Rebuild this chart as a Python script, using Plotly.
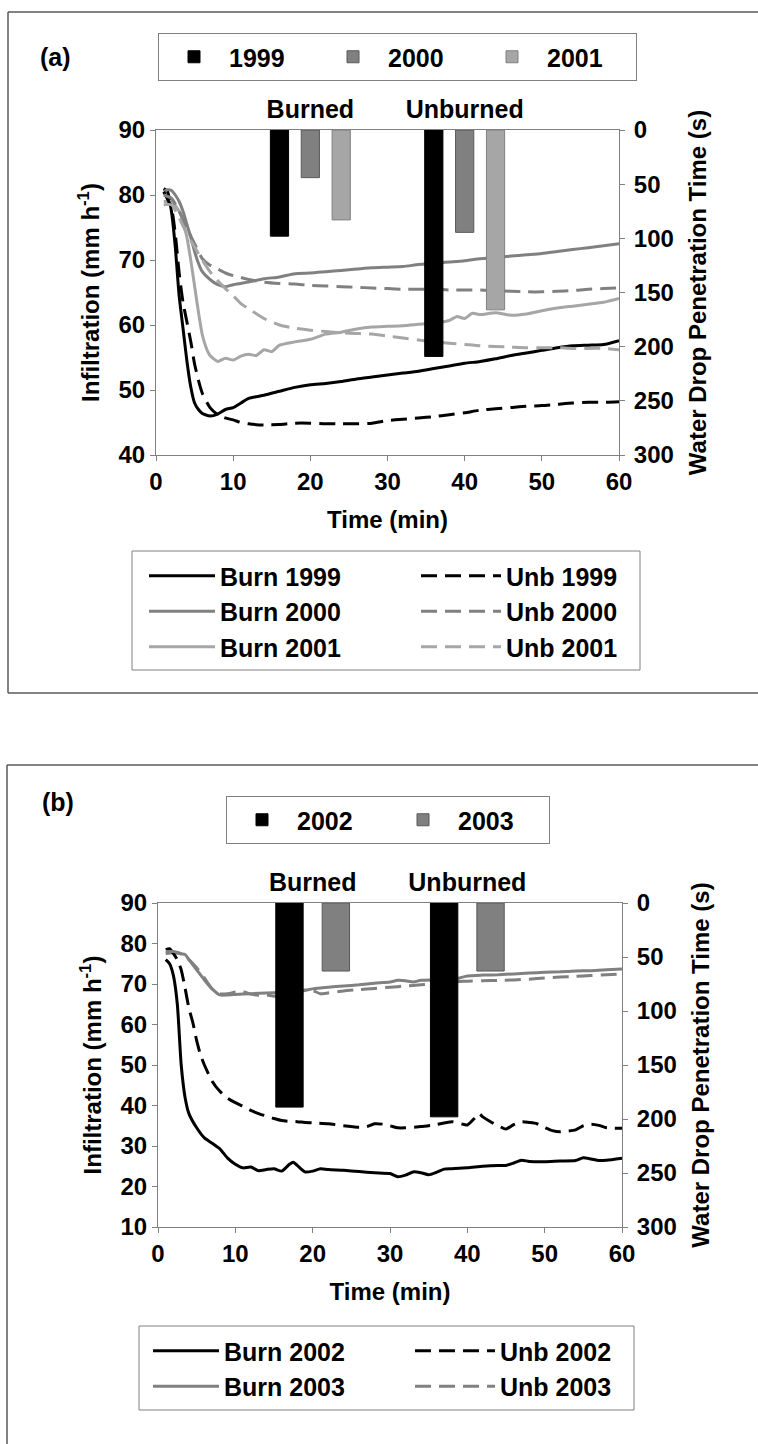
import plotly.graph_objects as go

# ---------------- Panel (a) data ----------------
groups = ["Burned", "Unburned"]
years_a = ["1999", "2000", "2001"]
wdpt_1999 = [98, 209]
wdpt_2000 = [44, 94.5]
wdpt_2001 = [83, 166]

t_burn_1999 = [1, 1.5, 2, 2.5, 3, 3.5, 4, 4.5, 5, 5.5, 6, 7, 8, 9, 10, 11, 12, 14, 16, 18, 20, 22, 24, 26, 28, 30,
               32, 34, 36, 38, 40, 42, 44, 46, 48, 50, 52, 54, 56, 58, 60]
v_burn_1999 = [81, 80.5, 77.5, 72, 64.5, 59.5, 54.5, 50.5, 48, 47, 46.4, 46, 46.3, 47, 47.3, 48, 48.7, 49.2, 49.8,
               50.4, 50.8, 51, 51.3, 51.7, 52, 52.3, 52.6, 52.9, 53.3, 53.7, 54.1, 54.4, 54.8, 55.3, 55.7, 56.1,
               56.5, 56.8, 56.9, 57, 57.6]

t_unb_1999 = [1, 2, 2.5, 3, 3.5, 4, 4.5, 5, 5.5, 6, 7, 8, 9, 10, 11, 12, 14, 16, 18, 20, 22, 24, 26, 28, 30, 32,
              34, 36, 38, 40, 42, 44, 46, 48, 50, 52, 54, 56, 58, 60]
v_unb_1999 = [80.5, 78, 74, 68, 63.5, 60.5, 57.5, 54, 51.5, 49.5, 47.3, 46.2, 45.7, 45.4, 45, 44.8, 44.6, 44.7,
              44.9, 44.9, 44.8, 44.8, 44.8, 44.9, 45.3, 45.5, 45.7, 45.9, 46.2, 46.5, 46.9, 47.1, 47.3, 47.5, 47.6,
              47.8, 48, 48.1, 48.1, 48.2]

t_burn_2000 = [1, 1.5, 2, 2.5, 3, 3.5, 4, 4.5, 5, 5.5, 6, 7, 8, 9, 10, 11, 12, 14, 16, 18, 20, 22, 24, 26, 28, 30,
               32, 34, 36, 38, 40, 42, 44, 46, 48, 50, 52, 54, 56, 58, 60]
v_burn_2000 = [80.5, 80.8, 80.7, 80, 79, 77.5, 75.5, 73.5, 71.3, 69.5, 68.2, 67, 66.2, 65.9, 66.2, 66.4, 66.6,
               67.1, 67.4, 67.9, 68, 68.2, 68.4, 68.6, 68.8, 68.9, 69, 69.3, 69.5, 69.7, 69.9, 70.2, 70.4, 70.6,
               70.8, 71, 71.3, 71.6, 71.9, 72.2, 72.5]

t_unb_2000 = [1, 2, 3, 4, 5, 6, 7, 8, 9, 10, 11, 12, 14, 16, 18, 20, 22, 24, 26, 28, 30, 32, 34, 36, 38, 40, 42,
              44, 46, 48, 50, 52, 54, 56, 58, 60]
v_unb_2000 = [80, 79.5, 77.5, 75, 72.5, 70.2, 69.2, 68.6, 68, 67.6, 67.3, 67, 66.6, 66.4, 66.3, 66.1, 66, 65.9,
              65.8, 65.7, 65.6, 65.5, 65.5, 65.5, 65.4, 65.4, 65.4, 65.3, 65.2, 65.1, 65.1, 65.2, 65.3, 65.5,
              65.6, 65.7]

t_burn_2001 = [1, 2, 3, 3.5, 4, 4.5, 5, 5.5, 6, 6.5, 7, 8, 9, 10, 11, 12, 13, 14, 15, 16, 18, 20, 22, 24, 26, 28,
               30, 32, 34, 36, 38, 39, 40, 41, 42, 44, 46, 48, 50, 52, 54, 56, 58, 60]
v_burn_2001 = [79, 79, 77.5, 76, 73.5, 70, 66, 62, 58.5, 56.5, 55.3, 54.4, 54.9, 54.6, 55.2, 55.5, 55.3, 56.2,
               55.9, 56.9, 57.4, 57.8, 58.6, 58.9, 59.4, 59.7, 59.8, 59.9, 60.1, 60.3, 60.7, 61.3, 61, 61.8, 61.6,
               61.9, 61.5, 61.7, 62.2, 62.6, 62.9, 63.2, 63.5, 64.1]

t_unb_2001 = [1, 2, 3, 4, 5, 6, 7, 8, 9, 10, 11, 12, 14, 16, 18, 20, 22, 24, 26, 28, 30, 32, 34, 36, 38, 40, 42,
              44, 46, 48, 50, 52, 54, 56, 58, 60]
v_unb_2001 = [78.5, 78.5, 76.5, 74, 72, 70, 68.2, 66.8, 65.6, 64.5, 63.3, 62.5, 61, 60, 59.5, 59.2, 59, 58.8,
              58.7, 58.6, 58.3, 58, 57.7, 57.4, 57.2, 57, 56.8, 56.7, 56.6, 56.5, 56.5, 56.5, 56.4, 56.4, 56.4,
              56.2]

# ---------------- Panel (b) data ----------------
years_b = ["2002", "2003"]
wdpt_2002 = [189, 198]
wdpt_2003 = [63, 63]

t_burn_2002 = [1, 1.5, 2, 2.5, 3, 3.5, 4, 5, 6, 7, 8, 9, 10, 11, 12, 13, 14, 15, 16, 17, 17.5, 18, 19, 20, 21,
               22, 24, 26, 28, 30, 31, 32, 33, 34, 35, 36, 37, 38, 40, 42, 44, 45, 46, 47, 48, 50, 52, 54, 55, 56,
               57, 58, 60]
v_burn_2002 = [76, 75, 72, 65, 50, 42, 38, 34.5, 32, 30.7, 29.3, 27, 25.5, 24.6, 24.8, 23.9, 24.2, 24.4, 23.8,
               25.5, 26, 25.2, 23.6, 23.8, 24.4, 24.2, 24, 23.7, 23.4, 23.2, 22.4, 22.8, 23.6, 23.4, 22.9, 23.5,
               24.3, 24.4, 24.6, 25, 25.2, 25.2, 25.8, 26.5, 26.2, 26.1, 26.3, 26.4, 27.1, 26.8, 26.4, 26.5, 27]

t_unb_2002 = [1, 1.5, 2, 2.5, 3, 3.5, 4, 4.5, 5, 5.5, 6, 7, 8, 9, 10, 11, 12, 13, 14, 15, 16, 17, 18, 19, 20, 22,
              24, 26, 27, 28, 29, 30, 31, 32, 34, 36, 38, 39, 40, 41, 41.5, 42, 43, 44, 45, 46, 47, 48, 49, 50, 51,
              52, 53, 54, 55, 56, 57, 58, 59, 60]
v_unb_2002 = [78.5, 78.7, 77.5, 76, 73.5, 69, 64, 60.5, 56, 52.5, 50, 46, 43.5, 41.8, 40.7, 39.8, 38.8, 38,
              37.4, 36.8, 36.3, 36.1, 36, 35.8, 35.7, 35.5, 35, 34.6, 34.8, 35.5, 35.4, 35, 34.5, 34.5, 34.8,
              35.3, 36, 35.6, 35.2, 37, 38, 37.2, 36, 35, 34.2, 35.3, 36, 35.8, 35.5, 34.6, 33.8, 33.5, 33.7, 34,
              35, 35.4, 35.1, 34.5, 34.4, 34.4]

t_burn_2003 = [1, 2, 3, 3.5, 4, 5, 6, 7, 8, 9, 10, 12, 14, 16, 18, 19, 20, 22, 24, 26, 28, 30, 31, 32, 33, 34, 36,
               38, 39, 40, 42, 44, 46, 48, 50, 52, 54, 56, 58, 60]
v_burn_2003 = [77.5, 77.7, 77.4, 77.3, 76, 73.5, 71, 68.8, 67.3, 67.3, 67.4, 67.6, 67.8, 67.9, 68.1, 68.4, 68.8,
               69.2, 69.5, 69.8, 70.2, 70.5, 70.9, 70.8, 70.5, 70.9, 71, 71.2, 71.5, 72, 72.2, 72.3, 72.5, 72.7,
               72.9, 73, 73.2, 73.3, 73.5, 73.7]

t_unb_2003 = [1, 2, 3, 4, 5, 6, 7, 8, 9, 10, 11, 12, 13, 14, 15, 16, 17, 18, 19, 20, 21, 22, 24, 26, 28, 30, 32,
              34, 36, 38, 39, 40, 42, 44, 46, 48, 50, 52, 54, 56, 58, 60]
v_unb_2003 = [78, 78, 77.5, 76, 74, 71.5, 68.8, 67.6, 67.6, 68, 68.1, 67.5, 67.2, 67.3, 67, 67.3, 67.6, 67.7,
              68.5, 68.4, 67.6, 67.8, 68.3, 68.6, 68.9, 69.2, 69.5, 69.8, 70.1, 70.5, 70.6, 70.7, 70.8, 70.9, 71,
              71.2, 71.5, 71.7, 71.9, 72.1, 72.3, 72.5]

# ---------------- styling ----------------
BLACK = "#000000"
MID = "#808080"
LIGHT = "#A6A6A6"
AX = "#808080"
FRAME = "#595959"
FONT = "Liberation Sans, Arial, sans-serif"
W, H = 758, 1444
DASH = "16px,8px"


def px_x(p):
    return p / W


def px_y(p):
    return 1 - p / H


fig = go.Figure()

# ---- panel (a) lines ----
line_specs_a = [
    ("Burn 1999", t_burn_1999, v_burn_1999, BLACK, "solid", "legend2"),
    ("Burn 2000", t_burn_2000, v_burn_2000, MID, "solid", "legend2"),
    ("Burn 2001", t_burn_2001, v_burn_2001, LIGHT, "solid", "legend2"),
    ("Unb 1999", t_unb_1999, v_unb_1999, BLACK, DASH, "legend5"),
    ("Unb 2000", t_unb_2000, v_unb_2000, MID, DASH, "legend5"),
    ("Unb 2001", t_unb_2001, v_unb_2001, LIGHT, DASH, "legend5"),
]
for name, t, v, c, d, lg in line_specs_a:
    fig.add_trace(go.Scatter(x=t, y=v, name=name, mode="lines",
                             line=dict(color=c, width=3, dash=d, shape="spline", smoothing=0.6),
                             xaxis="x", yaxis="y", legend=lg))

# ---- panel (a) bars ----
bar_specs_a = [("1999", wdpt_1999, BLACK, BLACK), ("2000", wdpt_2000, MID, "#595959"),
               ("2001", wdpt_2001, LIGHT, MID)]
for name, vals, c, lc in bar_specs_a:
    fig.add_trace(go.Bar(x=groups, y=vals, name=name, marker=dict(color=c, line=dict(color=lc, width=1)),
                         xaxis="x2", yaxis="y2", legend="legend"))

# ---- panel (b) lines ----
line_specs_b = [
    ("Burn 2002", t_burn_2002, v_burn_2002, BLACK, "solid", "legend4"),
    ("Burn 2003", t_burn_2003, v_burn_2003, MID, "solid", "legend4"),
    ("Unb 2002", t_unb_2002, v_unb_2002, BLACK, DASH, "legend6"),
    ("Unb 2003", t_unb_2003, v_unb_2003, MID, DASH, "legend6"),
]
for name, t, v, c, d, lg in line_specs_b:
    fig.add_trace(go.Scatter(x=t, y=v, name=name, mode="lines",
                             line=dict(color=c, width=3, dash=d, shape="spline", smoothing=0.6),
                             xaxis="x3", yaxis="y3", legend=lg))

bar_specs_b = [("2002", wdpt_2002, BLACK, BLACK), ("2003", wdpt_2003, MID, "#595959")]
for name, vals, c, lc in bar_specs_b:
    fig.add_trace(go.Bar(x=groups, y=vals, name=name, marker=dict(color=c, line=dict(color=lc, width=1)),
                         xaxis="x4", yaxis="y4", legend="legend3"))

tick_font = dict(family=FONT, size=24, color="black", weight="bold")
title_font = dict(family=FONT, size=24, color="black", weight="bold")


def time_axis(domain, anchor):
    return dict(domain=domain, anchor=anchor, range=[0, 60], dtick=10, ticks="outside", ticklen=5,
                tickcolor=AX, showline=True, linecolor=AX, linewidth=1, mirror=True, showgrid=False,
                zeroline=False, tickfont=tick_font,
                title=dict(text="Time (min)", font=title_font, standoff=17))


def left_axis(domain, anchor, rng, dtick):
    return dict(domain=domain, anchor=anchor, range=rng, dtick=dtick, ticks="outside", ticklen=5,
                tickcolor=AX, showline=True, linecolor=AX, linewidth=1, showgrid=False, zeroline=False,
                tickfont=tick_font,
                title=dict(text="Infiltration (mm h<sup>-1</sup>)", font=title_font, standoff=12))


def right_axis(over, anchor):
    return dict(overlaying=over, anchor=anchor, side="right", range=[300, 0], dtick=50, ticks="outside",
                ticklen=5, tickcolor=AX, showline=True, linecolor=AX, linewidth=1, showgrid=False,
                zeroline=False, tickfont=tick_font, ticklabelstandoff=4,
                title=dict(text="Water Drop Penetration Time (s)", font=title_font, standoff=16))


def cat_axis(over, anchor):
    return dict(overlaying=over, anchor=anchor, side="top", type="category", categoryorder="array",
                categoryarray=groups, range=[-1, 2], showline=False, ticks="", showgrid=False,
                zeroline=False, tickfont=dict(family=FONT, size=25, color="black", weight="bold"),
                ticklabelstandoff=6)


ya_dom = [px_y(455), px_y(130)]
yb_dom = [px_y(1227), px_y(903)]
xa_dom = [px_x(156), px_x(619)]
xb_dom = [px_x(158), px_x(622)]

leg_font = dict(family=FONT, size=25, color="black", weight="bold")
top_legend = dict(orientation="h", xanchor="left", yanchor="top", bgcolor="white",
                  bordercolor=AX, borderwidth=1, itemwidth=60, font=leg_font)
col_legend = dict(orientation="v", xanchor="left", yanchor="top", bgcolor="rgba(0,0,0,0)",
                  borderwidth=0, font=leg_font, tracegroupgap=0)

fig.update_layout(
    width=W, height=H, margin=dict(l=0, r=0, t=0, b=0, autoexpand=False),
    paper_bgcolor="white", plot_bgcolor="white",
    font=dict(family=FONT, size=24, color="black", weight="bold"),
    barmode="group", bargap=0.4, bargroupgap=0.41,
    xaxis=time_axis(xa_dom, "y"),
    yaxis=left_axis(ya_dom, "x", [40, 90], 10),
    yaxis2=right_axis("y", "x"),
    xaxis2=cat_axis("x", "y"),
    xaxis3=time_axis(xb_dom, "y3"),
    yaxis3=left_axis(yb_dom, "x3", [10, 90], 10),
    yaxis4=right_axis("y3", "x3"),
    xaxis4=cat_axis("x3", "y3"),
    legend=dict(top_legend, x=px_x(158), y=px_y(33), entrywidth=84),
    legend3=dict(top_legend, x=px_x(226), y=px_y(796), entrywidth=86),
    legend2=dict(col_legend, x=px_x(144), y=px_y(553), itemwidth=66),
    legend5=dict(col_legend, x=px_x(416), y=px_y(553), itemwidth=80),
    legend4=dict(col_legend, x=px_x(148), y=px_y(1328), itemwidth=66),
    legend6=dict(col_legend, x=px_x(410), y=px_y(1328), itemwidth=80),
    showlegend=True,
    annotations=[
        dict(text="(a)", x=px_x(38), y=px_y(41), xref="paper", yref="paper", showarrow=False,
             font=dict(family=FONT, size=25, color="black", weight="bold")),
        dict(text="(b)", x=px_x(40), y=px_y(802), xref="paper", yref="paper", showarrow=False,
             font=dict(family=FONT, size=25, color="black", weight="bold")),
    ],
    shapes=[
        # panel frames
        dict(type="line", xref="paper", yref="paper", x0=px_x(8), x1=1, y0=px_y(12), y1=px_y(12),
             line=dict(color=FRAME, width=1.5)),
        dict(type="line", xref="paper", yref="paper", x0=px_x(8), x1=px_x(8), y0=px_y(12), y1=px_y(693),
             line=dict(color=FRAME, width=1.5)),
        dict(type="line", xref="paper", yref="paper", x0=px_x(8), x1=1, y0=px_y(693), y1=px_y(693),
             line=dict(color=FRAME, width=1.5)),
        dict(type="line", xref="paper", yref="paper", x0=px_x(7), x1=1, y0=px_y(765), y1=px_y(765),
             line=dict(color=FRAME, width=1.5)),
        dict(type="line", xref="paper", yref="paper", x0=px_x(7), x1=px_x(7), y0=px_y(765), y1=0,
             line=dict(color=FRAME, width=1.5)),
        # line-legend boxes
        dict(type="rect", xref="paper", yref="paper", x0=px_x(132), x1=px_x(640), y0=px_y(670),
             y1=px_y(551), line=dict(color=AX, width=1)),
        dict(type="rect", xref="paper", yref="paper", x0=px_x(139), x1=px_x(634), y0=px_y(1410),
             y1=px_y(1326), line=dict(color=AX, width=1)),
    ],
)

fig.write_html("out.html")
